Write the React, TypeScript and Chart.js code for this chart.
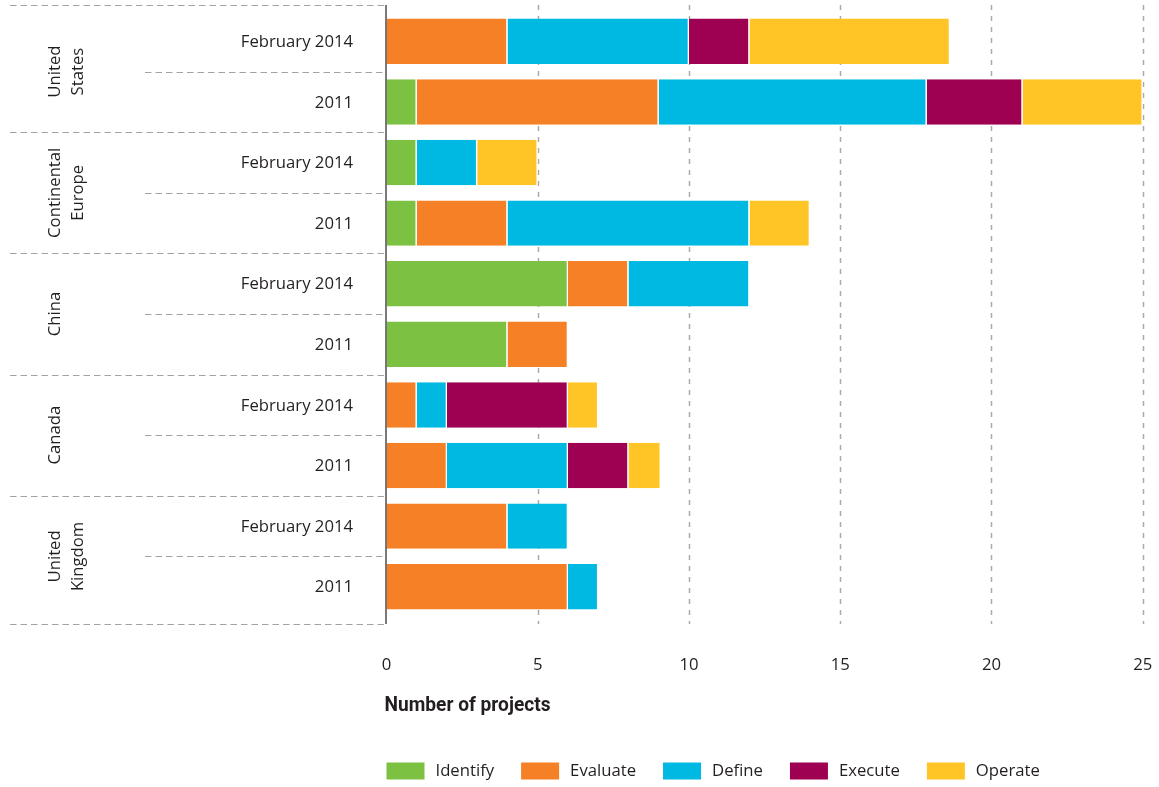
import React, { useEffect, useRef } from "react";
import { Chart, registerables } from "chart.js";

Chart.register(...registerables);

// ---- data ----
const rowLabels = [
  "February 2014", "2011",
  "February 2014", "2011",
  "February 2014", "2011",
  "February 2014", "2011",
  "February 2014", "2011",
];
const groupLabels = [
  ["United", "States"],
  ["Continental", "Europe"],
  ["China"],
  ["Canada"],
  ["United", "Kingdom"],
];
const rowsPerGroup = 2;

const seriesNames = ["Identify", "Evaluate", "Define", "Execute", "Operate"];
const identify = [0, 1, 1, 1, 6, 4, 0, 0, 0, 0];
const evaluate = [4, 8, 0, 3, 2, 2, 1, 2, 4, 6];
const define = [6, 8.86, 2, 8, 4, 0, 1, 4, 2, 1];
const execute = [2, 3.17, 0, 0, 0, 0, 4, 2, 0, 0];
const operate = [6.63, 3.97, 2, 2, 0, 0, 1, 1.07, 0, 0];
const seriesColors = ["#7dc142", "#f58025", "#00b9e3", "#9e0052", "#ffc425"];

const xMin = 0;
const xMax = 25;
const xStep = 5;
const xTitle = "Number of projects";

const W = 1159;
const H = 787;
const TEXT = "#231f20";
const FONT = "'Open Sans', 'Noto Sans', sans-serif";
const FS = 16.7;

const decorPlugin = {
  id: "decor",
  beforeDatasetsDraw(chart: any) {
    const { ctx, scales } = chart;
    const x = scales.x;
    const y = scales.y;
    const step = y.getPixelForValue(1) - y.getPixelForValue(0);
    const top = y.getPixelForValue(0) - step / 2 - 6;
    const bottom = y.getPixelForValue(rowLabels.length - 1) + step / 2 + 7;
    ctx.save();
    ctx.strokeStyle = "#aaaaaa";
    ctx.lineWidth = 1.5;
    ctx.setLineDash([5, 6]);
    x.ticks.forEach((t: any) => {
      if (t.value === xMin) return;
      const px = Math.round(x.getPixelForValue(t.value)) + 0.5;
      ctx.beginPath();
      ctx.moveTo(px, top);
      ctx.lineTo(px, bottom);
      ctx.stroke();
    });
    ctx.restore();
  },
  afterDatasetsDraw(chart: any) {
    const { ctx, scales } = chart;
    const x = scales.x;
    const y = scales.y;
    const step = y.getPixelForValue(1) - y.getPixelForValue(0);
    const top = y.getPixelForValue(0) - step / 2 - 6;
    const bottom = y.getPixelForValue(rowLabels.length - 1) + step / 2 + 7;
    const x0 = x.getPixelForValue(xMin);

    ctx.save();
    // axis line
    ctx.strokeStyle = TEXT;
    ctx.lineWidth = 1.2;
    ctx.beginPath();
    ctx.moveTo(x0 - 0.5, top);
    ctx.lineTo(x0 - 0.5, bottom);
    ctx.stroke();

    // horizontal dashed separators
    ctx.strokeStyle = "#a3a3a3";
    ctx.lineWidth = 1.2;
    ctx.setLineDash([6.5, 4]);
    const seps: { yy: number; x1: number }[] = [];
    seps.push({ yy: top, x1: 10 });
    for (let i = 0; i < rowLabels.length - 1; i++) {
      const yy = (y.getPixelForValue(i) + y.getPixelForValue(i + 1)) / 2;
      const isGroup = (i + 1) % rowsPerGroup === 0;
      seps.push({ yy, x1: isGroup ? 10 : 145 });
    }
    seps.push({ yy: bottom, x1: 10 });
    seps.forEach((s) => {
      ctx.beginPath();
      ctx.moveTo(s.x1, Math.round(s.yy) + 0.5);
      ctx.lineTo(x0 - 1, Math.round(s.yy) + 0.5);
      ctx.stroke();
    });
    ctx.setLineDash([]);

    // row labels
    ctx.fillStyle = TEXT;
    ctx.font = `${FS}px ${FONT}`;
    ctx.textAlign = "right";
    ctx.textBaseline = "middle";
    rowLabels.forEach((lab, i) => {
      ctx.fillText(lab, 353, y.getPixelForValue(i) + 1);
    });

    // group labels (rotated)
    groupLabels.forEach((lines, g) => {
      const cy =
        (y.getPixelForValue(g * rowsPerGroup) +
          y.getPixelForValue(g * rowsPerGroup + rowsPerGroup - 1)) /
        2;
      lines.forEach((line, li) => {
        ctx.save();
        ctx.translate(55 + li * 23, cy);
        ctx.rotate(-Math.PI / 2);
        ctx.textAlign = "center";
        ctx.textBaseline = "middle";
        ctx.fillText(line, 0, 0);
        ctx.restore();
      });
    });

    // axis title (condensed bold)
    ctx.save();
    ctx.font = `bold 20px Roboto, 'Liberation Sans', sans-serif`;
    ctx.textAlign = "left";
    ctx.textBaseline = "alphabetic";
    const tw = ctx.measureText(xTitle).width;
    const sx = 166 / tw;
    ctx.translate(x0 - 2, 711);
    ctx.scale(sx, 1);
    ctx.fillText(xTitle, 0, 0);
    ctx.restore();

    // legend
    ctx.font = `${FS}px ${FONT}`;
    ctx.textAlign = "left";
    ctx.textBaseline = "middle";
    let lx = x0;
    const boxW = 38;
    const boxH = 17;
    const ly = 771;
    chart.data.datasets.forEach((ds: any) => {
      ctx.fillStyle = ds.backgroundColor;
      ctx.fillRect(lx, ly - boxH / 2, boxW, boxH);
      ctx.fillStyle = TEXT;
      ctx.fillText(ds.label, lx + boxW + 11, ly);
      lx += boxW + 11 + ctx.measureText(ds.label).width + 27;
    });
    ctx.restore();
  },
};

export default function App() {
  const ref = useRef<HTMLCanvasElement | null>(null);
  useEffect(() => {
    if (!ref.current) return;
    const values = [identify, evaluate, define, execute, operate];
    const chart = new Chart(ref.current, {
      type: "bar",
      data: {
        labels: rowLabels,
        datasets: seriesNames.map((name, i) => ({
          label: name,
          data: values[i],
          backgroundColor: seriesColors[i],
          borderColor: "rgba(255,255,255,0.9)",
          borderWidth: { top: 0, bottom: 0, left: 0, right: 1.3 },
          borderSkipped: false,
          barPercentage: 0.75,
          categoryPercentage: 1,
        })),
      },
      options: {
        indexAxis: "y",
        responsive: false,
        animation: false,
        layout: { padding: { left: 386.5, right: 16.3, top: 11, bottom: 0 } },
        plugins: {
          legend: { display: false },
          tooltip: { enabled: false },
        },
        scales: {
          x: {
            stacked: true,
            min: xMin,
            max: xMax,
            grid: { display: false, drawTicks: true, tickLength: 38 },
            border: { display: false },
            ticks: {
              stepSize: xStep,
              color: TEXT,
              font: { family: FONT, size: FS },
              padding: 0,
            },
            afterFit: (scale: any) => {
              scale.height = 170;
            },
          },
          y: {
            stacked: true,
            display: false,
          },
        },
      },
      plugins: [decorPlugin],
    } as any);
    return () => chart.destroy();
  }, []);
  return (
    <div style={{ position: "absolute", left: 0, top: 0, width: W, height: H }}>
      <canvas ref={ref} width={W} height={H} />
    </div>
  );
}
